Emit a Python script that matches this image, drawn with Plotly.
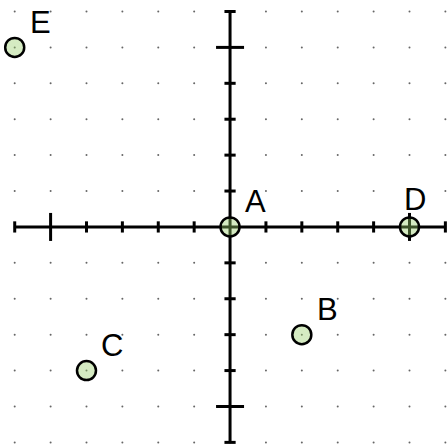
import plotly.graph_objects as go

# Data
point_labels = ["A", "B", "C", "D", "E"]
point_x = [0, 2, -4, 5, -6]
point_y = [0, -3, -4, 0, 5]

grid_values = list(range(-6, 7))
minor_ticks = [v for v in range(-6, 7) if v not in (0, -5, 5)]
major_ticks = [-5, 5]
axis_min, axis_max = -6, 6

X_RANGE = [-6.41, 6.045]
Y_RANGE = [-6.045, 6.32]

fig = go.Figure()

# dotted grid
gx = [x for x in grid_values for y in grid_values]
gy = [y for x in grid_values for y in grid_values]
fig.add_trace(go.Scatter(x=gx, y=gy, mode="markers",
                         marker=dict(size=2, color="#666666", line=dict(width=0)),
                         hoverinfo="skip", cliponaxis=False))

# axes lines
fig.add_trace(go.Scatter(x=[axis_min, axis_max], y=[0, 0], mode="lines",
                         line=dict(color="black", width=3), hoverinfo="skip"))
fig.add_trace(go.Scatter(x=[0, 0], y=[axis_min, axis_max], mode="lines",
                         line=dict(color="black", width=3), hoverinfo="skip"))

# ticks on x axis
fig.add_trace(go.Scatter(x=minor_ticks, y=[0] * len(minor_ticks), mode="markers",
                         marker=dict(symbol="line-ns", size=8, line=dict(color="black", width=3)),
                         hoverinfo="skip", cliponaxis=False))
fig.add_trace(go.Scatter(x=major_ticks, y=[0] * len(major_ticks), mode="markers",
                         marker=dict(symbol="line-ns", size=20, line=dict(color="black", width=3)),
                         hoverinfo="skip", cliponaxis=False))
# ticks on y axis
fig.add_trace(go.Scatter(x=[0] * len(minor_ticks), y=minor_ticks, mode="markers",
                         marker=dict(symbol="line-ew", size=8, line=dict(color="black", width=3)),
                         hoverinfo="skip", cliponaxis=False))
fig.add_trace(go.Scatter(x=[0] * len(major_ticks), y=major_ticks, mode="markers",
                         marker=dict(symbol="line-ew", size=20, line=dict(color="black", width=3)),
                         hoverinfo="skip", cliponaxis=False))

# points
fig.add_trace(go.Scatter(x=point_x, y=point_y, mode="markers",
                         marker=dict(size=19, color="rgba(150,205,102,0.4)",
                                     line=dict(color="black", width=2.5)),
                         hoverinfo="skip", cliponaxis=False))

# labels
label_shift = {"D": (-8, 27)}
for lbl, x, y in zip(point_labels, point_x, point_y):
    xs, ys = label_shift.get(lbl, (13, 25))
    fig.add_annotation(x=x, y=y, text=lbl, showarrow=False,
                       xanchor="left", yanchor="middle", xshift=xs, yshift=ys,
                       font=dict(family="Liberation Sans, Arial, sans-serif", size=31, color="black"))

fig.update_layout(
    width=447, height=444,
    margin=dict(l=0, r=0, t=0, b=0),
    paper_bgcolor="white", plot_bgcolor="white",
    showlegend=False,
    xaxis=dict(range=X_RANGE, visible=False, fixedrange=True),
    yaxis=dict(range=Y_RANGE, visible=False, fixedrange=True),
)

fig.write_html("out.html", config={"displayModeBar": False},
               post_script="document.body.style.margin='0px';")
